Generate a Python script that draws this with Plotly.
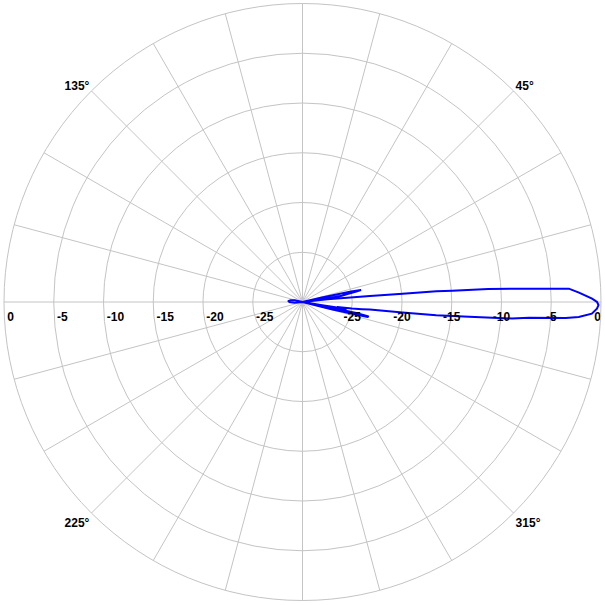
import plotly.graph_objects as go

# Radiation pattern (angle in degrees, gain in dB)
theta_deg = [-180, -175, -170, -160, -16, -14, -13, -12.3, -11.6, -11, -10,
             -9.5, -9, -8.3, -7.5, -6.9, -6.4, -6.0, -5.66, -5.1, -4.5, -4.0,
             -3.47, -3.1, -2.3, -1.3, -0.6, 0.0, 0.67, 1.94, 2.87, 3.37, 4.0,
             4.3, 4.56, 4.76, 5.1, 5.6, 6.2, 7.0, 8.0, 9.0, 10.0, 11.0, 11.6,
             12.2, 13.0, 14.0, 160, 165, 168, 172, 176, 180]
gain_db = [-28.6, -29.2, -30, -30, -30, -27.0, -23.3, -23.2, -24.5, -27.5, -30,
           -28, -25.5, -26.5, -25.0, -24.0, -23.2, -19.9, -16.5, -13.2, -8.9, -7.2,
           -3.5, -2.2, -0.9, -0.4, -0.25, -0.4, -0.9, -2.2, -3.2, -7.2, -11.3,
           -14.9, -16.5, -19.9, -23.2, -25.5, -27.5, -30, -27.5, -26.0, -25.5, -24.5, -24.0,
           -25.0, -28, -30, -30, -30, -29.2, -28.8, -28.6, -28.6]

radial_ticks = [-25, -20, -15, -10, -5, 0]
radial_labels = ["-25", "-20", "-15", "-10", "-5", "0"]
angle_grid = list(range(0, 360, 15))
angle_labels = {45: "45°", 135: "135°", 225: "225°", 315: "315°"}

label_font = dict(family="Liberation Sans", size=12, color="black", weight="bold")
grid_col = "#c4c4c4"

fig = go.Figure()
fig.add_trace(go.Scatterpolar(
    r=gain_db, theta=theta_deg, mode="lines",
    line=dict(color="#0000ff", width=2), showlegend=False, hoverinfo="skip"))

# radial value labels below the horizontal axis, left (180°) and right (0°)
fig.add_trace(go.Scatterpolar(
    r=radial_ticks, theta=[180] * len(radial_ticks), mode="text",
    text=["<br><br>\u00a0" + t for t in radial_labels],
    textposition="middle right", textfont=label_font,
    showlegend=False, hoverinfo="skip", cliponaxis=False))
fig.add_trace(go.Scatterpolar(
    r=radial_ticks, theta=[0] * len(radial_ticks), mode="text",
    text=["<br><br>" + t for t in radial_labels],
    textposition=["middle center"] * (len(radial_ticks) - 1) + ["middle left"],
    textfont=label_font, showlegend=False, hoverinfo="skip", cliponaxis=False))

fig.update_layout(
    width=605, height=605,
    margin=dict(l=4, r=4, t=3, b=4),
    paper_bgcolor="white", plot_bgcolor="white",
    showlegend=False,
    polar=dict(
        bgcolor="white",
        domain=dict(x=[0, 1], y=[0, 1]),
        angularaxis=dict(
            rotation=0, direction="counterclockwise",
            tickmode="array", tickvals=angle_grid,
            ticktext=[angle_labels.get(a, "") for a in angle_grid],
            tickfont=label_font, ticks="",
            showgrid=True, gridcolor=grid_col, gridwidth=1,
            showline=True, linecolor=grid_col, linewidth=1),
        radialaxis=dict(
            range=[-30, 0], tickmode="array", tickvals=radial_ticks,
            showticklabels=False, ticks="", showline=False,
            showgrid=True, gridcolor=grid_col, gridwidth=1),
    ),
)

fig.write_html("out.html", config={"displayModeBar": False},
               post_script="document.body.style.margin='0';")
